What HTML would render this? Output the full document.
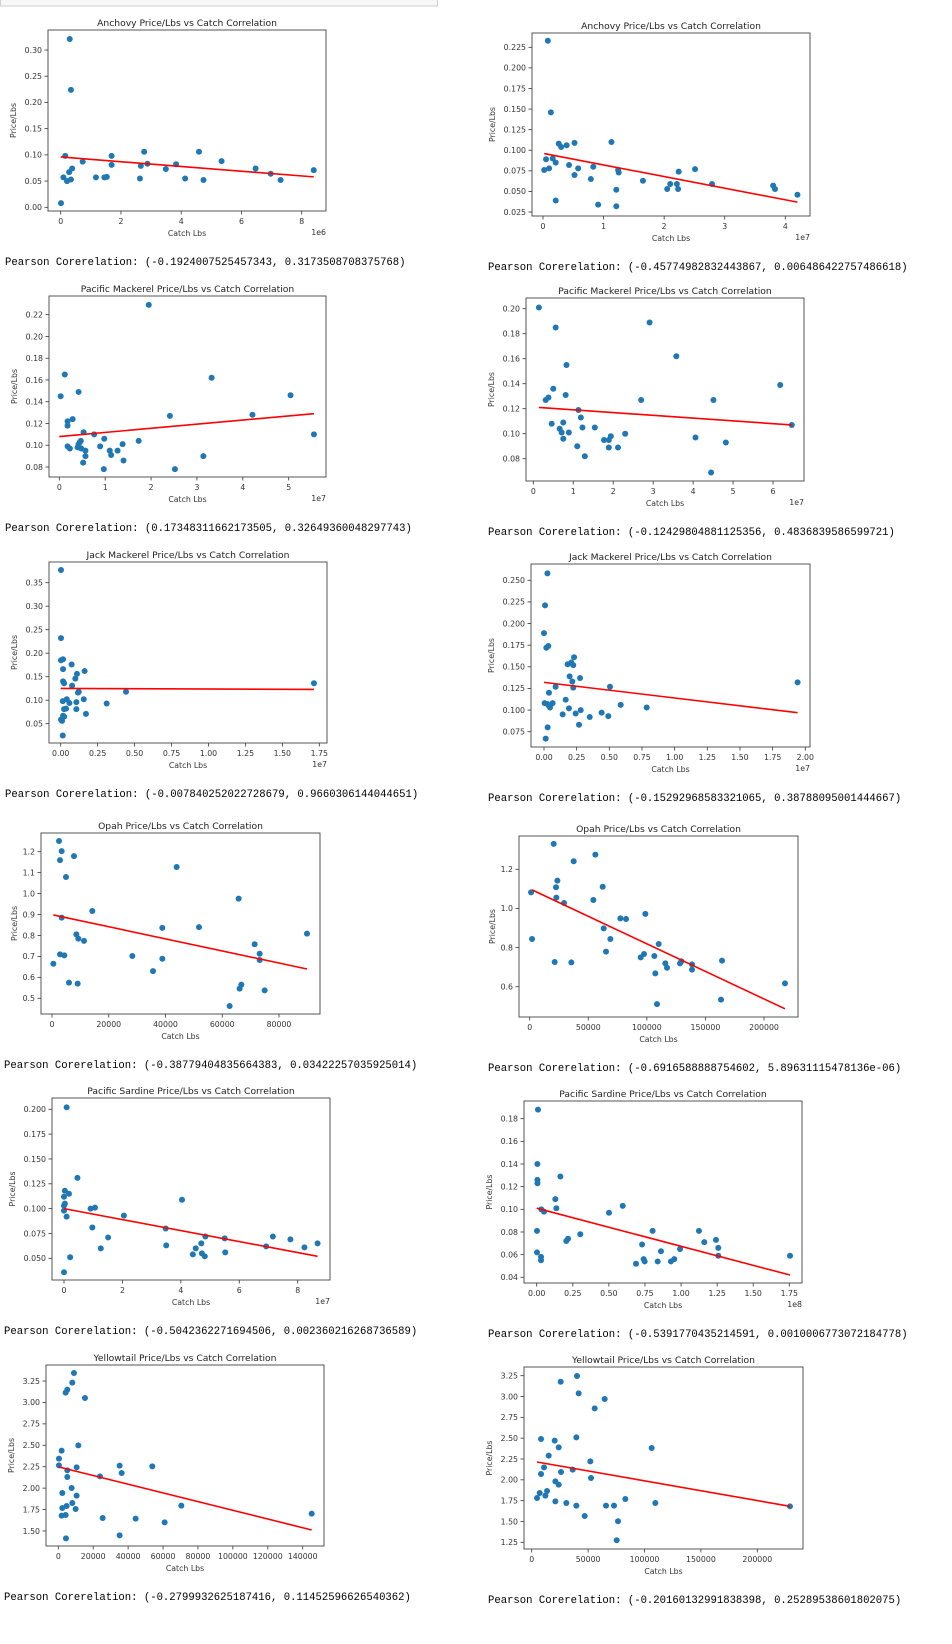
<!DOCTYPE html>
<html><head><meta charset="utf-8">
<style>
html,body{margin:0;padding:0;background:#fff;}
svg{display:block;}
</style></head>
<body>
<svg id="root" width="952" height="1644" viewBox="0 0 952 1644" xmlns="http://www.w3.org/2000/svg"></svg>
<script>
// ---------- DATA ----------
const c1X=[0.01,0.15,0.09,0.21,0.28,0.30,0.34,0.34,0.38,0.73,1.17,1.45,1.53,1.69,1.69,2.63,2.66,2.77,2.88,3.49,3.83,4.13,4.59,4.74,5.34,6.47,6.97,7.30,8.40];
const c1Y=[0.008,0.098,0.057,0.050,0.067,0.321,0.224,0.053,0.074,0.087,0.057,0.057,0.058,0.098,0.081,0.055,0.079,0.106,0.083,0.073,0.082,0.055,0.106,0.052,0.088,0.074,0.064,0.052,0.071];
const c1LineX=[0,8.4], c1LineY=[0.096,0.058];
const c1XTicks=[0,2,4,6,8], c1YTicks=[0,0.05,0.10,0.15,0.20,0.25,0.30];

const c2X=[0.02,0.05,0.08,0.10,0.13,0.16,0.21,0.21,0.26,0.30,0.39,0.43,0.52,0.52,0.58,0.79,0.83,0.91,1.13,1.21,1.21,1.24,1.25,1.65,2.05,2.10,2.21,2.23,2.24,2.51,2.79,3.80,3.83,4.20];
const c2Y=[0.076,0.089,0.233,0.078,0.146,0.090,0.085,0.039,0.108,0.104,0.106,0.082,0.109,0.070,0.078,0.065,0.080,0.034,0.110,0.052,0.032,0.076,0.073,0.063,0.053,0.059,0.059,0.053,0.074,0.077,0.059,0.057,0.053,0.046];
const c2LineX=[0.02,4.2], c2LineY=[0.096,0.037];
const c2XTicks=[0,1,2,3,4], c2YTicks=[0.025,0.05,0.075,0.1,0.125,0.15,0.175,0.2,0.225];

const c3X=[0.03,0.12,0.18,0.18,0.18,0.23,0.29,0.42,0.40,0.42,0.45,0.47,0.48,0.52,0.53,0.57,0.57,0.76,0.89,0.97,0.98,1.10,1.13,1.27,1.38,1.40,1.73,1.95,2.41,2.52,3.14,3.32,4.21,5.04,5.55];
const c3Y=[0.145,0.165,0.122,0.118,0.099,0.097,0.124,0.149,0.098,0.101,0.103,0.104,0.097,0.084,0.112,0.095,0.090,0.110,0.099,0.078,0.106,0.095,0.091,0.095,0.101,0.086,0.104,0.229,0.127,0.078,0.090,0.162,0.128,0.146,0.110];
const c3LineX=[0,5.55], c3LineY=[0.108,0.129];
const c3XTicks=[0,1,2,3,4,5], c3YTicks=[0.08,0.10,0.12,0.14,0.16,0.18,0.20,0.22];

const c4X=[0.14,0.31,0.38,0.46,0.50,0.56,0.66,0.71,0.75,0.75,0.81,0.83,0.89,1.10,1.13,1.19,1.23,1.29,1.54,1.77,1.89,1.89,1.94,2.12,2.30,2.70,2.91,3.58,4.06,4.45,4.51,4.82,6.18,6.47];
const c4Y=[0.201,0.127,0.129,0.108,0.136,0.185,0.104,0.101,0.109,0.096,0.131,0.155,0.101,0.090,0.119,0.113,0.105,0.082,0.105,0.095,0.095,0.089,0.098,0.089,0.100,0.127,0.189,0.162,0.097,0.069,0.127,0.093,0.139,0.107];
const c4LineX=[0.14,6.47], c4LineY=[0.121,0.107];
const c4XTicks=[0,1,2,3,4,5,6], c4YTicks=[0.08,0.10,0.12,0.14,0.16,0.18,0.20];

const c5X=[0.002,0.002,0.002,0.016,0.016,0.016,0.023,0.014,0.002,0.009,0.016,0.023,0.014,0.023,0.036,0.041,0.059,0.074,0.077,0.099,0.11,0.106,0.106,0.117,0.122,0.156,0.162,0.171,0.311,0.442,1.714];
const c5Y=[0.377,0.232,0.185,0.187,0.166,0.140,0.136,0.098,0.059,0.056,0.067,0.065,0.025,0.081,0.082,0.102,0.094,0.176,0.131,0.146,0.156,0.096,0.081,0.116,0.118,0.102,0.162,0.071,0.093,0.118,0.136];
const c5LineX=[0,1.714], c5LineY=[0.125,0.123];
const c5XTicks=[0,0.25,0.5,0.75,1,1.25,1.5,1.75], c5YTicks=[0.05,0.10,0.15,0.20,0.25,0.30,0.35];

const c6X=[0,0.005,0.008,0.013,0.018,0.026,0.028,0.033,0.026,0.038,0.038,0.046,0.066,0.089,0.143,0.166,0.181,0.191,0.196,0.209,0.217,0.224,0.224,0.230,0.242,0.268,0.276,0.281,0.350,0.441,0.492,0.505,0.587,0.786,1.941];
const c6Y=[0.189,0.108,0.221,0.067,0.172,0.258,0.080,0.174,0.107,0.120,0.105,0.103,0.108,0.127,0.095,0.112,0.153,0.102,0.139,0.155,0.133,0.152,0.126,0.161,0.096,0.083,0.137,0.100,0.092,0.097,0.093,0.127,0.106,0.103,0.132];
const c6LineX=[0,1.941], c6LineY=[0.132,0.097];
const c6XTicks=[0,0.25,0.5,0.75,1,1.25,1.5,1.75,2], c6YTicks=[0.075,0.1,0.125,0.15,0.175,0.2,0.225,0.25];

const c7X=[470,2470,2820,2820,3410,3410,4350,4930,5990,7750,8580,9040,9280,11280,14210,28310,35590,38880,38880,43920,51800,62600,65780,66130,66720,71420,73180,73180,74940,89860];
const c7Y=[0.665,1.251,1.160,0.710,1.203,0.885,0.705,1.079,0.575,1.179,0.805,0.570,0.785,0.774,0.917,0.702,0.630,0.689,0.836,1.127,0.840,0.463,0.976,0.546,0.565,0.758,0.713,0.683,0.538,0.809];
const c7LineX=[470,89860], c7LineY=[0.898,0.640];
const c7XTicks=[0,20000,40000,60000,80000], c7YTicks=[0.5,0.6,0.7,0.8,0.9,1.0,1.1,1.2];

const c8X=[1140,1990,20480,21340,22470,22760,23610,29300,35560,37550,54340,56050,62300,63160,65150,68850,77380,82220,94730,97580,98720,106400,107250,108680,110100,115790,117210,128310,129450,138550,138550,163300,164150,217920];
const c8Y=[1.082,0.844,1.330,0.726,1.108,1.055,1.142,1.028,0.724,1.241,1.043,1.275,1.111,0.898,0.779,0.844,0.949,0.946,0.750,0.767,0.972,0.757,0.668,0.511,0.818,0.719,0.697,0.719,0.730,0.714,0.687,0.534,0.733,0.617];
const c8LineX=[1990,217920], c8LineY=[1.095,0.487];
const c8XTicks=[0,50000,100000,150000,200000], c8YTicks=[0.6,0.8,1.0,1.2];

const c9X=[0,0,0,0,0.03,0.03,0.09,0.09,0.17,0.21,0.46,0.91,0.97,1.06,1.26,1.51,2.05,3.48,3.50,4.04,4.41,4.51,4.70,4.72,4.82,4.84,5.50,5.52,6.92,7.15,7.75,8.23,8.68];
const c9Y=[0.036,0.098,0.103,0.112,0.105,0.118,0.202,0.092,0.115,0.051,0.131,0.100,0.081,0.101,0.060,0.071,0.093,0.080,0.063,0.109,0.054,0.060,0.065,0.055,0.052,0.072,0.070,0.056,0.062,0.072,0.069,0.061,0.065];
const c9LineX=[0,8.68], c9LineY=[0.100,0.052];
const c9XTicks=[0,2,4,6,8], c9YTicks=[0.05,0.075,0.1,0.125,0.15,0.175,0.2];

const c10X=[0.002,0.002,0.005,0.005,0.005,0.009,0.030,0.030,0.032,0.051,0.129,0.136,0.164,0.205,0.217,0.302,0.501,0.596,0.688,0.730,0.741,0.748,0.803,0.838,0.861,0.930,0.953,0.993,1.124,1.161,1.242,1.258,1.258,1.755];
const c10Y=[0.081,0.062,0.140,0.126,0.123,0.188,0.058,0.055,0.100,0.098,0.109,0.101,0.129,0.072,0.074,0.078,0.097,0.103,0.052,0.069,0.056,0.054,0.081,0.054,0.063,0.054,0.056,0.065,0.081,0.071,0.073,0.066,0.059,0.059];
const c10LineX=[0,1.755], c10LineY=[0.101,0.042];
const c10XTicks=[0,0.25,0.5,0.75,1,1.25,1.5,1.75], c10YTicks=[0.04,0.06,0.08,0.10,0.12,0.14,0.16,0.18];

const c11X=[380,380,1910,1910,2290,2290,4200,4200,4390,4770,5160,5160,5160,7640,8020,8020,8980,9930,10500,10500,11460,15280,23870,25400,35140,35140,36290,44300,53850,60920,70470,145150];
const c11Y=[2.344,2.266,2.437,1.679,1.768,1.943,3.114,1.687,1.414,1.792,3.149,2.208,2.130,2.002,3.231,1.827,3.343,1.757,2.243,1.912,2.499,3.052,2.138,1.652,2.262,1.449,2.177,1.644,2.254,1.601,1.796,1.702];
const c11LineX=[380,145150], c11LineY=[2.247,1.512];
const c11XTicks=[0,20000,40000,60000,80000,100000,120000,140000], c11YTicks=[1.5,1.75,2.0,2.25,2.5,2.75,3.0,3.25];

const c12X=[4730,7090,8270,8270,10930,12110,13590,15070,20380,20970,20970,23930,23930,25700,26000,30720,36340,39590,39590,40180,41650,46970,51990,52580,55830,64700,65880,72970,75330,76510,83010,106350,109600,228950];
const c12Y=[1.782,1.842,2.490,2.070,2.150,1.810,1.866,2.290,2.470,1.982,1.742,2.390,1.942,3.178,2.094,1.722,2.122,1.690,2.510,3.246,3.038,1.566,2.222,2.022,2.858,2.970,1.690,1.690,1.274,1.502,1.770,2.382,1.722,1.682];
const c12LineX=[4730,228950], c12LineY=[2.214,1.682];
const c12XTicks=[0,50000,100000,150000,200000], c12YTicks=[1.25,1.5,1.75,2.0,2.25,2.5,2.75,3.0,3.25];

const titles=["Anchovy","Anchovy","Pacific Mackerel","Pacific Mackerel","Jack Mackerel","Jack Mackerel","Opah","Opah","Pacific Sardine","Pacific Sardine","Yellowtail","Yellowtail"];
const pearson=["(-0.1924007525457343, 0.3173508708375768)","(-0.45774982832443867, 0.006486422757486618)","(0.17348311662173505, 0.32649360048297743)","(-0.12429804881125356, 0.4836839586599721)","(-0.007840252022728679, 0.9660306144044651)","(-0.15292968583321065, 0.38788095001444667)","(-0.38779404835664383, 0.03422257035925014)","(-0.6916588888754602, 5.89631115478136e-06)","(-0.5042362271694506, 0.002360216268736589)","(-0.5391770435214591, 0.0010006773072184778)","(-0.2799932625187416, 0.11452596626540362)","(-0.20160132991838398, 0.25289538601802075)"];
const offsets=["1e6","1e7","1e7","1e7","1e7","1e7","","","1e7","1e8","",""];

// ---------- LAYOUT (pixels) ----------
// box [l,t,r,b], x ref [v0,p0,v1,p1], y ref [v0,p0,v1,p1], xdec, ydec, pearson x
const layout=[
 {box:[48,30,326,211],xr:[0,60.7,8,301.7],yr:[0,207.3,0.30,50],xd:0,yd:2,px:5},
 {box:[532,33,810,216],xr:[0,543,4,785.3],yr:[0.025,212,0.225,47.3],xd:0,yd:3,px:488},
 {box:[49,296,326,477],xr:[0,59.3,5,288.7],yr:[0.08,467,0.22,314.7],xd:0,yd:2,px:5},
 {box:[526,298,804,481],xr:[0,533.3,6,773],yr:[0.08,458.7,0.20,308.7],xd:0,yd:2,px:488},
 {box:[49,562,327,743],xr:[0,60.7,1.75,319.3],yr:[0.05,723.7,0.35,582.7],xd:2,yd:2,px:5},
 {box:[531,564,810,747],xr:[0,544,2,805.3],yr:[0.075,731.7,0.25,580.3],xd:2,yd:3,px:488},
 {box:[41,833,320,1014],xr:[0,52,80000,279],yr:[0.5,998.3,1.2,851.7],xd:0,yd:1,px:4},
 {box:[519,836,798,1017],xr:[0,529.7,200000,764],yr:[0.6,986.7,1.2,869.3],xd:0,yd:1,px:488},
 {box:[52,1098,330,1280],xr:[0,64,8,297.7],yr:[0.05,1258.3,0.2,1109.3],xd:0,yd:3,px:4},
 {box:[524,1101,802,1283],xr:[0,536.7,1.75,789.3],yr:[0.04,1277.3,0.18,1118.7],xd:2,yd:2,px:488},
 {box:[46,1365,324,1546],xr:[0,58.3,140000,302.7],yr:[1.5,1531,3.25,1381],xd:0,yd:2,px:4},
 {box:[524,1367,803,1549],xr:[0,531.7,200000,757.3],yr:[1.25,1542.3,3.25,1375.7],xd:0,yd:2,px:488}
];
const XS=[c1X,c2X,c3X,c4X,c5X,c6X,c7X,c8X,c9X,c10X,c11X,c12X];
const YS=[c1Y,c2Y,c3Y,c4Y,c5Y,c6Y,c7Y,c8Y,c9Y,c10Y,c11Y,c12Y];
const LX=[c1LineX,c2LineX,c3LineX,c4LineX,c5LineX,c6LineX,c7LineX,c8LineX,c9LineX,c10LineX,c11LineX,c12LineX];
const LY=[c1LineY,c2LineY,c3LineY,c4LineY,c5LineY,c6LineY,c7LineY,c8LineY,c9LineY,c10LineY,c11LineY,c12LineY];
const XT=[c1XTicks,c2XTicks,c3XTicks,c4XTicks,c5XTicks,c6XTicks,c7XTicks,c8XTicks,c9XTicks,c10XTicks,c11XTicks,c12XTicks];
const YT=[c1YTicks,c2YTicks,c3YTicks,c4YTicks,c5YTicks,c6YTicks,c7YTicks,c8YTicks,c9YTicks,c10YTicks,c11YTicks,c12YTicks];

const NS="http://www.w3.org/2000/svg";
const root=document.getElementById('root');
function mk(tag,attrs,parent,text){const e=document.createElementNS(NS,tag);for(const k in attrs)e.setAttribute(k,attrs[k]);if(text!==undefined)e.textContent=text;parent.appendChild(e);return e;}
const FONT='"DejaVu Sans","Liberation Sans",sans-serif';

// notebook cell top border
const cellTop=mk('rect',{x:0.5,y:-1,width:437,height:7,fill:'#f7f7f7',stroke:'#cfcfcf'},root);



for(let i=0;i<12;i++){
  const L=layout[i];const [l,t,r,b]=L.box;
  const sx=v=>L.xr[1]+(v-L.xr[0])*(L.xr[3]-L.xr[1])/(L.xr[2]-L.xr[0]);
  const sy=v=>L.yr[1]+(v-L.yr[0])*(L.yr[3]-L.yr[1])/(L.yr[2]-L.yr[0]);
  const g=mk('g',{},root);
  
  
  const tt=mk('text',{x:(l+r)/2,y:t-4,'text-anchor':'middle','font-family':FONT,'font-size':9.2,fill:'#222'},g,titles[i]+' Price/Lbs vs Catch Correlation');
  
  
  // x ticks
  XT[i].forEach(v=>{const x=sx(v);
    mk('line',{x1:x,x2:x,y1:b,y2:b+3.5,stroke:'#333','stroke-width':0.8},g);
    const tl=mk('text',{x:x,y:b+13,'text-anchor':'middle','font-family':FONT,'font-size':7.8,fill:'#333'},g,v.toFixed(L.xd));
    
    
  });
  YT[i].forEach(v=>{const y=sy(v);
    mk('line',{x1:l-3.5,x2:l,y1:y,y2:y,stroke:'#333','stroke-width':0.8},g);
    const tl=mk('text',{x:l-6,y:y+2.8,'text-anchor':'end','font-family':FONT,'font-size':7.8,fill:'#333'},g,v.toFixed(L.yd));
    
    
  });
  const xl=mk('text',{x:(l+r)/2,y:b+25,'text-anchor':'middle','font-family':FONT,'font-size':7.8,fill:'#333'},g,'Catch Lbs');
  
  
  const yx=l-(L.yd===3?37:(L.yd===1?24:32));const ym=(t+b)/2;
  const yl=mk('text',{x:yx,y:ym,'text-anchor':'middle','font-family':FONT,'font-size':7.8,fill:'#333',transform:`rotate(-90 ${yx} ${ym})`},g,'Price/Lbs');
  
  
  if(offsets[i]){const o=mk('text',{x:r,y:b+24,'text-anchor':'end','font-family':FONT,'font-size':7.8,fill:'#333'},g,offsets[i]);
    
    }
  // points
  XS[i].forEach((xv,k)=>{const c=mk('circle',{cx:sx(xv),cy:sy(YS[i][k]),r:3,fill:'#1f77b4'},g);
    
    });
  const ln=mk('line',{x1:sx(LX[i][0]),y1:sy(LY[i][0]),x2:sx(LX[i][1]),y2:sy(LY[i][1]),stroke:'#ff0000','stroke-width':1.6},g);
  
  
  const box=mk('rect',{x:l,y:t,width:r-l,height:b-t,fill:'none',stroke:'#444','stroke-width':0.9},g);
  
  
  const pt=mk('text',{x:L.px,y:b+54,'font-family':'"Liberation Mono","DejaVu Sans Mono",monospace','font-size':10.6,fill:'#000'},g,'Pearson Corerelation: '+pearson[i]);
  
  
}
</script>
</body></html>
